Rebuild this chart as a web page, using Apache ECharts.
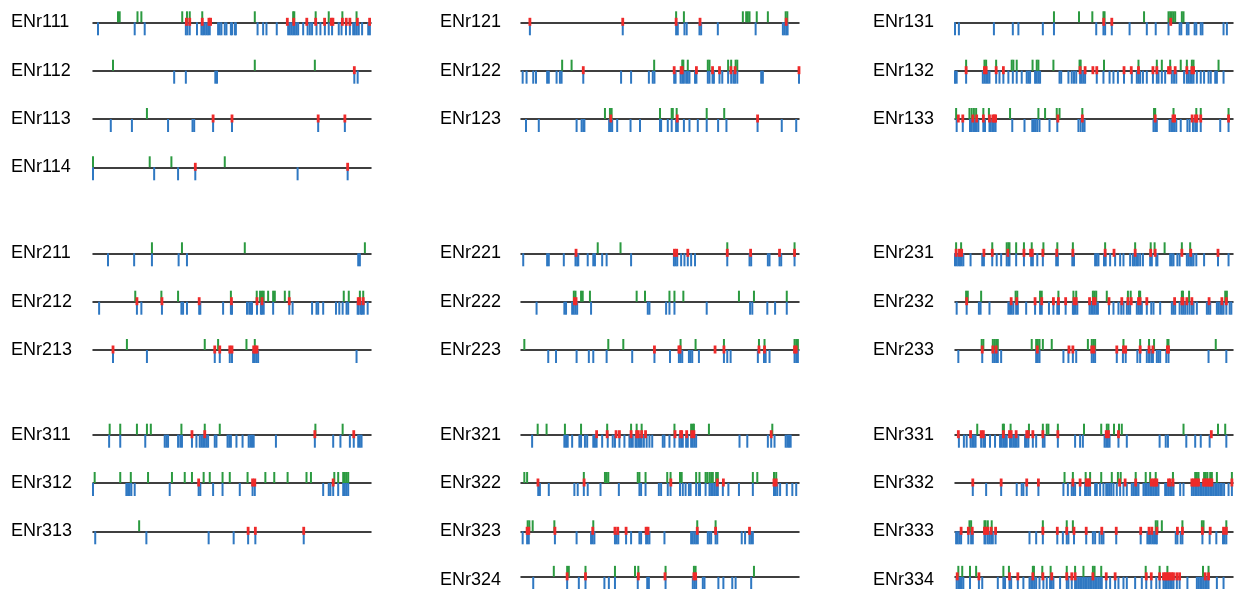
<!DOCTYPE html>
<html>
<head>
<meta charset="utf-8">
<script src="https://cdn.jsdelivr.net/npm/echarts@6/dist/echarts.min.js"></script>
<style>
  html, body { margin: 0; padding: 0; background: #fff; }
  #chart { width: 1236px; height: 589px; }
</style>
</head>
<body>
<div id="chart"></div>
<script>
// positions along each region, 0..100 (% of region length)
// green = above the line, blue = below the line, red = on the line
const green111 = [9.0, 9.6, 16.0, 17.4, 32.1, 33.8, 34.8, 39.3, 58.2, 72.0, 72.4, 80.1, 84.8, 89.7, 94.8];
const red111 = [33.6, 34.8, 39.3, 41.7, 42.3, 69.9, 72.2, 76.9, 80.1, 83.3, 85.7, 86.3, 89.7, 91.1, 92.4, 95.1, 99.5];
const blue111 = [1.8, 15.0, 18.6, 33.4, 34.0, 34.8, 37.4, 39.0, 39.6, 40.2, 40.8, 41.4, 42.0, 45.0, 45.6, 46.2, 47.4, 48.0, 49.6, 50.0, 51.0, 51.4, 59.2, 61.2, 62.4, 66.1, 70.2, 70.8, 71.4, 72.0, 72.6, 73.2, 73.8, 75.6, 77.2, 78.0, 78.8, 80.4, 81.8, 83.4, 84.8, 86.0, 88.4, 89.4, 91.0, 92.4, 93.6, 94.2, 94.9, 95.6, 96.8, 99.0, 99.6];

const green112 = [7.2, 58.2, 79.8];
const red112 = [94.0];
const blue112 = [29.2, 33.4, 44.0, 44.6, 94.0, 95.2];

const green113 = [19.4];
const red113 = [43.2, 50.0, 81.0, 90.6];
const blue113 = [6.4, 14.0, 27.0, 35.8, 36.4, 43.2, 50.0, 81.0, 90.6];

const green114 = [0, 20.4, 28.2, 47.4];
const red114 = [36.8, 91.6];
const blue114 = [0, 22.0, 30.6, 36.8, 73.6, 91.6];

const green121 = [55.8, 58.6, 79.8, 81.0, 81.6, 82.2, 84.8, 88.8, 95.2, 95.8];
const red121 = [3.2, 36.6, 55.8, 64.4, 95.4];
const blue121 = [3.2, 36.6, 55.8, 56.4, 58.8, 59.6, 64.2, 64.8, 70.8, 84.4, 94.2, 94.8, 95.4, 95.9];

const green122 = [14.8, 18.2, 47.9, 58.0, 58.4, 60.0, 67.2, 67.8, 74.5, 75.6, 77.2, 77.8];
const red122 = [22.4, 55.1, 57.6, 58.0, 63.1, 68.9, 71.4, 75.5, 77.0, 100];
const blue122 = [0.6, 2.0, 4.4, 5.4, 9.4, 10.0, 12.8, 14.0, 14.6, 22.4, 36.0, 39.6, 46.0, 47.4, 48.0, 55.1, 55.6, 57.4, 58.0, 58.6, 59.4, 60.0, 60.6, 62.6, 63.1, 67.2, 67.8, 68.9, 69.4, 71.4, 72.4, 74.5, 75.6, 76.4, 77.0, 77.8, 86.4, 87.0, 100];

const green123 = [30.2, 32.0, 32.6, 50.0, 54.2, 54.6, 56.0, 66.8, 73.1];
const red123 = [32.3, 56.2, 85.1];
const blue123 = [1.8, 6.4, 20.0, 21.8, 22.4, 22.8, 31.7, 32.3, 32.8, 34.6, 39.4, 42.8, 50.0, 50.4, 52.8, 54.2, 55.8, 56.4, 58.6, 60.6, 63.6, 66.8, 70.9, 73.9, 85.1, 93.8, 99.0];

const green131 = [35.6, 44.6, 49.4, 53.4, 53.8, 68.0, 76.8, 77.4, 78.0, 78.6, 79.2, 81.6, 82.2];
const red131 = [53.5, 56.4, 77.6];
const blue131 = [0, 1.4, 14.0, 20.8, 22.8, 31.6, 35.6, 50.8, 53.4, 54.0, 56.4, 62.8, 69.0, 72.2, 76.8, 80.8, 81.4, 83.4, 84.0, 86.2, 86.8, 88.4, 89.0, 96.6, 97.8];

const green132 = [4.0, 10.6, 11.2, 14.8, 20.4, 21.0, 22.2, 27.9, 29.4, 30.0, 35.4, 44.8, 45.2, 53.6, 66.0, 72.6, 74.4, 77.4, 81.2, 83.4, 85.2, 85.8, 94.8];
const red132 = [4.0, 10.6, 11.2, 14.8, 17.4, 45.0, 46.8, 49.6, 51.0, 60.8, 63.4, 66.0, 71.2, 72.6, 76.8, 77.4, 79.2, 83.4, 85.2, 85.8];
const blue132 = [0, 0.6, 4.0, 10.0, 10.6, 11.2, 11.8, 12.4, 14.8, 16.0, 17.4, 19.2, 20.8, 22.2, 24.0, 25.8, 26.4, 27.0, 28.8, 29.4, 30.0, 30.6, 37.6, 38.2, 40.8, 42.0, 42.8, 43.6, 45.0, 45.6, 46.2, 46.8, 51.0, 53.4, 55.6, 57.0, 58.6, 60.8, 63.6, 65.4, 66.0, 66.6, 67.6, 69.0, 71.2, 72.6, 73.2, 74.4, 75.6, 78.0, 78.8, 79.6, 82.4, 83.4, 84.0, 84.6, 85.2, 85.8, 87.0, 88.4, 89.6, 91.2, 92.0, 93.6, 94.2, 96.6];

const green133 = [0.4, 5.2, 6.0, 6.8, 7.6, 10.2, 12.2, 19.8, 30.0, 32.4, 36.6, 37.6, 45.8, 71.6, 72.0, 78.6, 86.8, 88.4, 98.4];
const red133 = [1.2, 2.8, 6.4, 7.8, 10.2, 12.4, 13.6, 14.2, 14.6, 37.0, 45.8, 72.0, 78.4, 79.0, 85.3, 86.5, 87.0, 88.4, 98.4];
const blue133 = [0.6, 2.8, 5.4, 6.0, 6.6, 7.2, 7.8, 8.4, 10.2, 10.8, 12.4, 12.8, 13.4, 14.0, 14.6, 20.6, 25.0, 27.8, 28.4, 29.0, 29.6, 30.4, 34.0, 36.8, 44.4, 45.2, 46.0, 46.6, 71.4, 72.0, 72.6, 77.2, 77.8, 78.4, 79.0, 79.6, 81.2, 83.6, 84.4, 85.6, 86.4, 87.0, 88.4, 95.4, 98.4];

const green211 = [21.2, 32.0, 54.6, 97.8];
const red211 = [];
const blue211 = [5.4, 14.8, 21.2, 30.8, 33.8, 95.4, 96.0];

const green212 = [15.2, 24.6, 30.6, 49.6, 58.9, 60.1, 60.8, 61.4, 63.0, 64.8, 65.4, 69.0, 70.6, 90.2, 92.0, 96.0, 97.2];
const red212 = [15.8, 24.8, 38.2, 49.8, 59.0, 60.8, 70.6, 95.4, 96.0, 97.2];
const blue212 = [2.2, 15.8, 17.4, 24.8, 31.8, 32.4, 33.8, 38.2, 38.6, 46.8, 49.6, 50.0, 55.4, 56.2, 56.8, 57.2, 59.0, 60.4, 60.8, 61.4, 64.8, 70.6, 71.8, 78.8, 80.4, 81.0, 82.8, 87.4, 88.6, 89.8, 91.2, 91.8, 95.2, 95.6, 96.4, 96.8, 97.4, 98.8];

const green213 = [12.2, 40.2, 45.0, 55.2, 58.2];
const red213 = [7.2, 43.8, 45.6, 49.2, 50.0, 57.8, 58.4, 59.0];
const blue213 = [7.2, 19.4, 43.8, 45.6, 49.2, 50.0, 57.6, 58.2, 58.8, 59.4, 94.8];

const green221 = [27.6, 35.8, 74.2, 98.4];
const red221 = [19.8, 55.2, 56.0, 60.0, 74.2, 82.6, 93.0, 98.4];
const blue221 = [0.8, 9.4, 10.0, 15.4, 19.6, 20.2, 20.6, 24.0, 26.0, 26.6, 29.2, 30.8, 39.6, 55.0, 55.6, 56.2, 57.6, 58.8, 60.0, 61.2, 62.6, 74.2, 82.2, 82.8, 88.8, 89.4, 93.0, 93.6, 98.4];

const green222 = [19.0, 19.6, 21.6, 22.2, 24.8, 41.6, 44.6, 53.4, 55.2, 58.4, 78.4, 83.8, 95.6];
const red222 = [19.2, 19.8];
const blue222 = [5.6, 15.6, 16.2, 18.4, 19.0, 19.6, 20.2, 25.2, 45.6, 46.2, 52.2, 53.4, 55.2, 66.8, 82.4, 83.2, 88.6, 91.4, 95.6];

const green223 = [1.2, 31.4, 36.8, 57.4, 62.8, 73.0, 85.6, 87.6, 98.4, 99.0, 99.6];
const red223 = [48.0, 56.8, 57.2, 69.8, 73.0, 85.6, 87.6, 98.4, 99.0];
const blue223 = [9.8, 12.6, 20.0, 24.4, 26.0, 30.8, 40.0, 48.0, 53.6, 56.8, 57.4, 58.0, 60.4, 61.0, 61.6, 64.0, 73.0, 74.2, 75.4, 85.2, 87.4, 88.0, 89.4, 98.4, 99.0, 99.6];

const green231 = [0.4, 2.2, 13.4, 18.6, 19.2, 19.6, 22.0, 24.8, 27.6, 31.8, 36.8, 42.4, 54.0, 64.8, 70.4, 71.8, 75.4, 81.6, 84.6];
const red231 = [0.4, 1.6, 2.4, 10.4, 13.4, 19.0, 24.8, 27.2, 27.8, 31.6, 36.6, 42.4, 54.0, 57.2, 64.8, 70.4, 72.0, 81.6, 84.8, 94.6];
const blue231 = [0, 0.6, 1.2, 1.8, 2.4, 3.0, 5.6, 9.8, 10.4, 13.4, 15.0, 16.6, 18.6, 19.2, 19.6, 22.0, 24.8, 27.4, 28.0, 29.6, 31.6, 36.4, 37.0, 42.2, 42.8, 50.4, 51.0, 51.6, 53.6, 54.2, 55.8, 57.6, 59.4, 60.6, 63.0, 64.0, 64.6, 65.2, 65.8, 66.6, 67.6, 70.2, 70.8, 72.4, 72.8, 77.4, 78.0, 78.6, 80.0, 80.8, 83.4, 84.0, 84.6, 85.2, 85.8, 86.8, 89.6, 94.6, 98.4];

const green232 = [4.0, 4.6, 9.4, 21.8, 22.4, 30.6, 31.2, 37.2, 42.6, 43.6, 49.6, 50.2, 50.8, 54.6, 62.2, 63.2, 66.2, 66.6, 81.6, 82.0, 84.2, 97.2, 97.8];
const red232 = [4.2, 20.2, 22.2, 28.8, 31.2, 35.4, 37.2, 39.8, 42.8, 43.6, 48.4, 49.8, 50.4, 55.4, 60.0, 62.2, 63.4, 66.0, 66.6, 69.0, 79.0, 81.6, 82.0, 83.4, 85.2, 91.4, 96.0, 97.6];
const blue232 = [0.6, 4.2, 8.6, 9.2, 12.4, 19.2, 19.8, 20.4, 21.0, 22.0, 22.6, 25.6, 28.8, 30.6, 31.2, 33.8, 35.4, 36.8, 37.4, 39.8, 42.4, 42.8, 43.4, 44.0, 48.4, 49.0, 49.6, 50.2, 50.8, 51.4, 55.4, 57.0, 58.8, 59.8, 60.6, 61.8, 62.4, 63.0, 65.4, 66.0, 66.6, 67.2, 69.0, 70.6, 71.4, 73.8, 78.0, 78.6, 79.2, 80.8, 81.6, 82.2, 82.8, 83.6, 84.4, 85.2, 85.8, 87.0, 90.6, 91.2, 91.8, 94.2, 94.8, 95.4, 96.0, 96.6, 97.6, 98.8, 99.4];

const green233 = [9.6, 10.2, 13.6, 14.2, 14.8, 15.4, 27.6, 29.2, 29.8, 30.4, 31.6, 34.8, 47.8, 49.2, 49.8, 50.4, 60.6, 66.6, 69.8, 71.6, 76.4, 76.8, 93.8];
const red233 = [9.8, 13.6, 14.8, 29.6, 41.0, 42.4, 49.2, 50.0, 58.2, 60.6, 61.4, 66.6, 69.8, 71.2, 76.4, 76.8];
const blue233 = [1.2, 9.8, 13.6, 14.2, 14.8, 15.4, 16.6, 29.2, 29.8, 30.4, 39.0, 40.8, 42.4, 43.6, 49.2, 49.8, 50.4, 58.2, 60.4, 61.4, 65.6, 66.6, 69.0, 69.8, 70.6, 71.2, 72.6, 73.2, 73.8, 76.0, 76.8, 91.2, 97.6];

const green311 = [6.0, 9.8, 15.8, 19.4, 20.8, 31.8, 40.2, 45.6, 80.0, 89.8];
const red311 = [35.6, 40.2, 79.8, 93.8];
const blue311 = [5.8, 9.8, 18.8, 25.8, 26.4, 27.0, 30.6, 31.4, 32.0, 35.6, 37.2, 38.4, 39.0, 39.6, 40.2, 40.8, 41.4, 43.8, 44.4, 48.4, 49.0, 49.6, 51.6, 53.8, 56.0, 56.6, 57.2, 57.8, 65.8, 79.8, 86.4, 89.0, 92.4, 93.8, 95.4, 96.0, 96.6];

const green312 = [0.6, 9.8, 13.6, 19.8, 28.4, 33.0, 35.6, 39.8, 42.0, 46.6, 49.2, 55.6, 62.0, 65.2, 70.0, 76.8, 78.4, 86.8, 88.2, 90.0, 90.6, 91.2, 91.8];
const red312 = [38.0, 57.4, 58.2, 86.4];
const blue312 = [0, 12.0, 12.6, 13.2, 13.8, 15.0, 27.6, 38.0, 38.6, 43.2, 46.6, 52.8, 57.4, 58.2, 82.8, 84.8, 85.4, 86.4, 88.2, 90.0, 90.6, 91.2, 91.8];

const green313 = [16.6];
const red313 = [55.8, 58.4, 75.8];
const blue313 = [0.8, 19.2, 41.6, 50.6, 55.8, 58.4, 75.8];

const green321 = [6.0, 9.2, 15.8, 21.6, 31.0, 39.6, 41.6, 43.4, 55.2, 61.2, 61.8, 62.2, 67.6, 90.4];
const red321 = [27.2, 31.0, 34.2, 35.4, 39.6, 41.6, 42.2, 43.4, 44.8, 55.4, 57.4, 57.8, 59.6, 61.4, 62.2, 90.0];
const blue321 = [4.0, 15.6, 16.2, 16.8, 18.4, 21.0, 21.6, 23.0, 23.8, 26.0, 26.6, 27.2, 29.2, 31.2, 33.0, 33.8, 35.4, 37.2, 39.0, 39.6, 40.2, 41.2, 41.6, 42.2, 42.8, 43.4, 44.2, 45.2, 46.2, 47.2, 51.0, 51.6, 53.4, 55.2, 57.0, 57.6, 58.2, 59.4, 60.0, 61.2, 61.8, 62.4, 63.0, 78.6, 81.4, 88.8, 90.0, 91.2, 95.2, 95.8, 96.4, 97.0];

const green322 = [1.2, 2.2, 22.6, 30.2, 30.8, 31.4, 42.0, 42.6, 44.8, 52.6, 53.8, 57.2, 57.8, 63.0, 64.2, 66.4, 67.0, 67.8, 68.4, 69.0, 70.2, 70.8, 83.4, 85.0, 91.0, 91.8];
const red322 = [6.1, 22.7, 53.9, 70.6, 72.8, 91.0, 91.8];
const blue322 = [6.2, 6.8, 10.0, 19.2, 20.4, 22.6, 24.0, 28.6, 35.2, 42.6, 43.2, 44.8, 49.6, 50.4, 52.8, 53.8, 57.2, 58.2, 59.2, 60.4, 61.0, 63.0, 64.0, 64.4, 66.4, 67.8, 68.4, 69.0, 69.6, 70.2, 70.8, 72.6, 74.6, 78.4, 83.4, 91.0, 91.6, 92.2, 93.2, 95.6, 97.6, 99.0];

const green323 = [2.4, 3.0, 4.2, 12.0, 26.0, 63.4, 70.0];
const red323 = [2.2, 2.8, 12.2, 25.8, 33.8, 34.8, 37.8, 45.0, 45.7, 63.4, 70.0, 82.2];
const blue323 = [0.6, 2.2, 2.8, 12.2, 20.0, 25.2, 25.8, 26.4, 33.8, 34.4, 35.0, 37.8, 39.6, 42.6, 43.2, 45.0, 45.6, 46.2, 51.6, 61.2, 61.8, 62.4, 63.0, 63.6, 67.2, 67.8, 68.4, 70.0, 70.6, 79.4, 80.6, 82.2, 82.8, 83.4];

const green324 = [11.8, 16.6, 17.2, 23.2, 33.8, 41.0, 42.2, 52.0, 62.2, 62.8, 83.8];
const red324 = [16.6, 23.2, 42.2, 51.8, 62.2, 62.8];
const blue324 = [4.4, 16.6, 20.8, 23.2, 30.0, 31.6, 33.8, 42.0, 45.4, 46.0, 52.0, 61.8, 62.4, 63.0, 65.4, 66.0, 71.0, 72.8, 76.0, 77.2, 82.8];

const green331 = [8.0, 17.2, 17.6, 20.0, 26.6, 31.6, 33.0, 33.6, 37.0, 46.4, 52.6, 54.6, 55.2, 57.2, 59.0, 60.0, 82.2, 94.6, 97.2];
const red331 = [1.2, 5.6, 9.4, 10.2, 17.4, 19.6, 20.2, 22.0, 25.8, 26.4, 28.0, 31.6, 37.0, 54.4, 55.2, 58.8, 92.2];
const blue331 = [1.4, 3.2, 4.2, 5.6, 6.2, 6.8, 7.4, 9.4, 10.2, 10.8, 12.6, 14.4, 16.2, 16.8, 17.4, 18.0, 18.6, 19.8, 20.4, 21.0, 21.6, 22.2, 22.8, 25.2, 25.8, 26.4, 28.0, 29.2, 31.6, 32.2, 37.0, 43.2, 45.0, 46.0, 53.8, 54.4, 55.0, 55.6, 58.8, 61.8, 73.6, 75.8, 76.6, 83.2, 86.4, 88.4, 91.6, 97.6];

const green332 = [39.4, 42.4, 47.0, 48.6, 52.6, 56.4, 58.6, 59.6, 65.0, 68.6, 70.2, 72.2, 78.4, 86.4, 87.0, 87.6, 89.6, 90.2, 90.8, 91.8, 92.4, 94.2, 99.6];
const red332 = [6.4, 16.6, 25.8, 30.0, 42.4, 45.0, 47.2, 47.8, 48.4, 59.2, 61.2, 65.0, 70.6, 71.4, 72.0, 72.6, 76.8, 77.4, 78.4, 85.2, 85.8, 86.4, 87.0, 87.6, 89.4, 90.0, 90.6, 91.2, 91.8, 92.4, 99.6];
const blue332 = [6.4, 11.2, 16.6, 22.2, 24.0, 24.6, 25.8, 30.0, 39.0, 40.6, 42.0, 42.6, 43.2, 45.0, 46.8, 47.4, 48.0, 48.6, 50.4, 51.0, 52.2, 53.4, 54.4, 55.0, 55.6, 56.2, 57.0, 58.2, 59.4, 60.6, 61.8, 63.6, 64.2, 64.8, 65.4, 66.0, 67.8, 68.4, 69.0, 69.6, 70.2, 70.8, 71.4, 72.0, 72.6, 73.2, 75.6, 76.2, 76.8, 77.4, 78.0, 78.6, 81.0, 82.2, 85.2, 85.8, 86.4, 87.0, 87.6, 88.2, 88.8, 89.4, 90.0, 90.6, 91.2, 91.8, 92.4, 93.0, 93.6, 94.2, 94.8, 95.4, 96.0, 96.8, 98.4, 99.6];

const green333 = [5.2, 5.8, 10.6, 11.0, 11.8, 13.2, 31.6, 40.2, 42.4, 72.2, 72.8, 74.4, 81.8, 88.8, 89.4, 97.6];
const red333 = [2.2, 4.8, 6.2, 10.6, 11.0, 11.8, 13.0, 14.6, 31.6, 36.8, 40.2, 42.8, 47.2, 52.8, 58.0, 66.8, 69.8, 70.8, 72.6, 80.0, 81.8, 89.0, 91.8, 96.6, 97.6];
const blue333 = [0.4, 1.0, 1.6, 2.2, 4.8, 5.8, 6.4, 10.6, 11.0, 11.8, 12.4, 13.0, 13.6, 14.6, 26.8, 29.2, 31.6, 36.8, 38.8, 40.2, 40.8, 42.8, 47.2, 49.6, 50.4, 52.0, 52.8, 53.4, 58.0, 66.8, 69.2, 69.8, 70.4, 71.0, 71.6, 72.2, 72.6, 79.4, 80.0, 81.2, 81.8, 89.0, 91.6, 94.0, 96.4, 97.0, 97.6];

const green334 = [1.2, 2.6, 5.4, 7.6, 17.4, 19.4, 28.0, 28.4, 31.4, 34.4, 40.2, 43.2, 46.2, 49.6, 50.2, 52.6, 68.6, 73.6, 76.4, 89.2, 91.2];
const red334 = [0.8, 8.6, 19.6, 22.6, 28.0, 31.6, 34.8, 40.2, 42.0, 43.2, 49.6, 54.4, 57.6, 68.8, 70.6, 73.6, 75.0, 75.6, 76.2, 76.8, 77.4, 78.0, 78.6, 79.8, 80.8, 90.0, 91.2];
const blue334 = [0.6, 1.2, 1.8, 2.4, 3.0, 5.4, 8.6, 9.8, 15.4, 17.4, 18.0, 19.6, 20.2, 22.6, 24.6, 26.8, 27.4, 28.0, 28.6, 29.2, 30.4, 31.8, 33.0, 34.2, 34.8, 35.4, 37.8, 40.2, 40.8, 42.0, 43.2, 43.8, 44.4, 45.0, 45.6, 46.2, 46.8, 47.4, 48.0, 48.6, 49.2, 49.8, 50.4, 51.0, 51.6, 52.2, 52.8, 54.4, 55.8, 57.6, 58.8, 60.6, 61.8, 64.8, 67.2, 68.8, 70.6, 72.4, 73.6, 75.0, 75.6, 76.2, 76.8, 77.4, 78.0, 78.6, 79.8, 80.8, 83.6, 87.0, 87.6, 88.2, 88.8, 89.4, 90.0, 90.6, 91.2, 94.2, 96.6];

// track name, column, row
const tracks = [
    ['ENr111', 0, 0, green111, blue111, red111],
    ['ENr112', 0, 1, green112, blue112, red112],
    ['ENr113', 0, 2, green113, blue113, red113],
    ['ENr114', 0, 3, green114, blue114, red114],
    ['ENr121', 1, 0, green121, blue121, red121],
    ['ENr122', 1, 1, green122, blue122, red122],
    ['ENr123', 1, 2, green123, blue123, red123],
    ['ENr131', 2, 0, green131, blue131, red131],
    ['ENr132', 2, 1, green132, blue132, red132],
    ['ENr133', 2, 2, green133, blue133, red133],
    ['ENr211', 0, 4, green211, blue211, red211],
    ['ENr212', 0, 5, green212, blue212, red212],
    ['ENr213', 0, 6, green213, blue213, red213],
    ['ENr221', 1, 4, green221, blue221, red221],
    ['ENr222', 1, 5, green222, blue222, red222],
    ['ENr223', 1, 6, green223, blue223, red223],
    ['ENr231', 2, 4, green231, blue231, red231],
    ['ENr232', 2, 5, green232, blue232, red232],
    ['ENr233', 2, 6, green233, blue233, red233],
    ['ENr311', 0, 7, green311, blue311, red311],
    ['ENr312', 0, 8, green312, blue312, red312],
    ['ENr313', 0, 9, green313, blue313, red313],
    ['ENr321', 1, 7, green321, blue321, red321],
    ['ENr322', 1, 8, green322, blue322, red322],
    ['ENr323', 1, 9, green323, blue323, red323],
    ['ENr324', 1, 10, green324, blue324, red324],
    ['ENr331', 2, 7, green331, blue331, red331],
    ['ENr332', 2, 8, green332, blue332, red332],
    ['ENr333', 2, 9, green333, blue333, red333],
    ['ENr334', 2, 10, green334, blue334, red334]
];

const colLeft = [93, 521, 955];
const labelLeft = [11, 440, 873];
const rowY = [22.3, 70.7, 119, 167.3, 253.3, 301.7, 350, 434.7, 483, 531.3, 579.7];
const trackWidth = 278;

let grids = [], xAxes = [], yAxes = [], series = [], labels = [];

tracks.forEach(function (t, i) {
    let y = rowY[t[2]];
    grids.push({ left: colLeft[t[1]], top: y - 15, width: trackWidth, height: 30 });
    xAxes.push({
        type: 'value', gridIndex: i, min: 0, max: 100,
        axisLine: { show: true, onZero: true, lineStyle: { color: '#000', width: 1.5 } },
        axisTick: { show: false }, axisLabel: { show: false }, splitLine: { show: false }
    });
    yAxes.push({ type: 'value', gridIndex: i, min: -1, max: 1, show: false });

    let mk = function (arr) { return arr.map(function (v) { return [v, 0]; }); };
    series.push({
        type: 'scatter', xAxisIndex: i, yAxisIndex: i, silent: true, z: 2,
        symbol: 'rect', symbolSize: [2, 13], symbolOffset: [0, 6.5],
        itemStyle: { color: '#2f78c2', opacity: 1 },
        data: mk(t[4])
    });
    series.push({
        type: 'scatter', xAxisIndex: i, yAxisIndex: i, silent: true, z: 3,
        symbol: 'rect', symbolSize: [2, 11], symbolOffset: [0, -5.5],
        itemStyle: { color: '#2b9a40', opacity: 1 },
        data: mk(t[3])
    });
    series.push({
        type: 'scatter', xAxisIndex: i, yAxisIndex: i, silent: true, z: 4,
        symbol: 'rect', symbolSize: [2.8, 8], symbolOffset: [0, -0.5],
        itemStyle: { color: '#ee2a2a', opacity: 1 },
        data: mk(t[5])
    });
    labels.push({
        type: 'text', left: labelLeft[t[1]], top: y - 9,
        style: { text: t[0], fill: '#000', font: '18px "Liberation Sans", Arial, sans-serif' }
    });
});

let myChart = echarts.init(document.getElementById('chart'));
myChart.setOption({
    animation: false,
    backgroundColor: '#fff',
    grid: grids,
    xAxis: xAxes,
    yAxis: yAxes,
    series: series,
    graphic: labels
});
</script>
</body>
</html>
